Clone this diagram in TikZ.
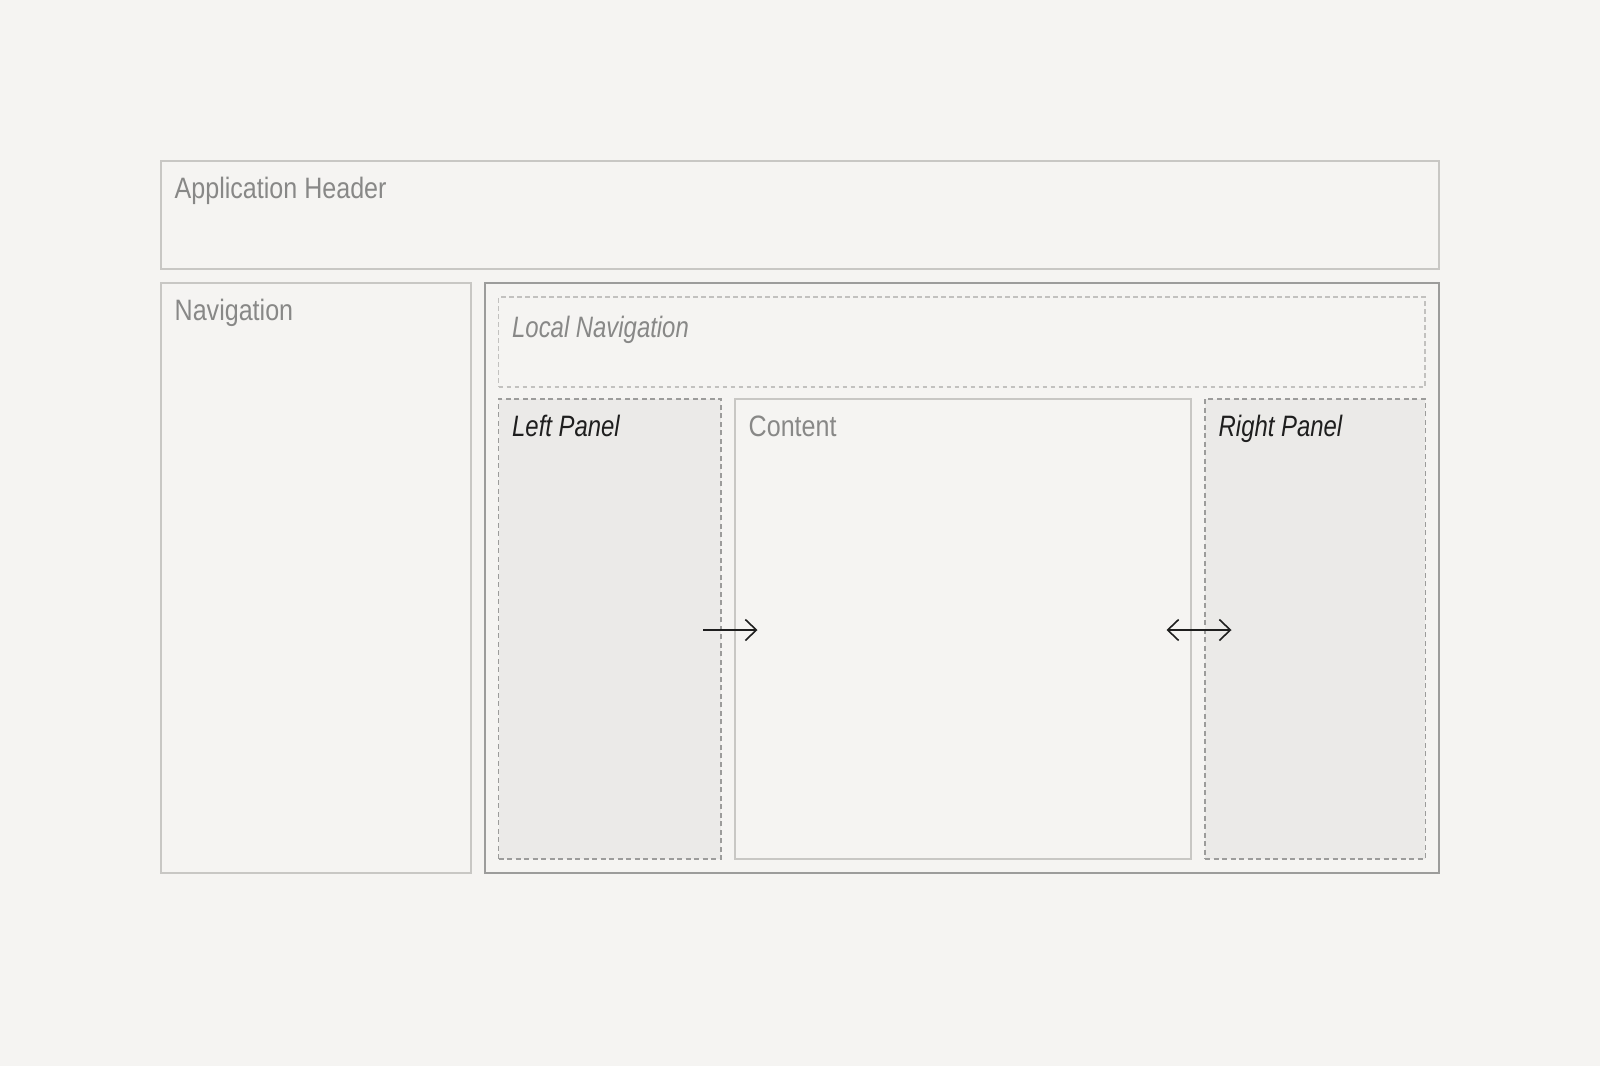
\documentclass[tikz,border=0pt]{standalone}
\usepackage{fontspec}
\setmainfont{Liberation Sans}[FakeStretch=0.85, ItalicFeatures={FakeStretch=0.81}]
\usetikzlibrary{arrows.meta}
\definecolor{bgc}{HTML}{F5F4F2}
\definecolor{lightline}{HTML}{C8C7C4}
\definecolor{midline}{HTML}{9C9C9B}
\definecolor{dashlight}{HTML}{C2C1BF}
\definecolor{panelfill}{HTML}{EBEAE8}
\definecolor{greytext}{HTML}{888887}
\definecolor{darktext}{HTML}{1E1E1E}
\tikzset{
  box/.style={draw=lightline, line width=1.6pt, inner sep=0pt, outer sep=0pt, anchor=north west},
  mainbox/.style={box, draw=midline},
  localnav/.style={box, draw=dashlight, line width=1.4pt, dash pattern=on 4.5pt off 3.5pt},
  panel/.style={box, draw=midline, fill=panelfill, line width=1.4pt, dash pattern=on 5pt off 3.5pt},
  lbl/.style={anchor=base west, inner sep=0pt, font=\fontsize{29.5}{34}\selectfont, text=greytext},
  ilbl/.style={lbl, font=\fontsize{29.5}{34}\selectfont\itshape},
  darklbl/.style={ilbl, text=darktext},
  conn/.style={line width=1.6pt, draw=darktext, {Straight Barb[length=11pt,width=21pt,line width=1.6pt]}-{Straight Barb[length=11pt,width=21pt,line width=1.6pt]}},
  connr/.style={line width=1.6pt, draw=darktext, -{Straight Barb[length=11pt,width=21pt,line width=1.6pt]}}
}
\begin{document}
\begin{tikzpicture}[x=1pt,y=-1pt]
\fill[bgc] (0,0) rectangle (1600,1066);
\useasboundingbox (0,0) rectangle (1600,1066);
% boxes
\node[box, minimum width=1278.3pt, minimum height=108pt] (header) at (160.7,160.7) {};
\node[box, minimum width=310pt, minimum height=589.7pt] (nav) at (160.7,283) {};
\node[mainbox, minimum width=954pt, minimum height=589.7pt] (main) at (484.8,283) {};
\node[localnav, minimum width=926.5pt, minimum height=90pt] (lnav) at (498.5,297) {};
\node[panel, minimum width=222.3pt, minimum height=460pt] (lpanel) at (498.7,399) {};
\node[box, minimum width=456pt, minimum height=460pt] (content) at (734.8,399) {};
\node[panel, minimum width=220.3pt, minimum height=460pt] (rpanel) at (1205,399) {};
% labels
\node[lbl] (tHeader) at (174.5,198) {Application Header};
\node[lbl] (tNav) at (174.5,320) {Navigation};
\node[ilbl] (tLnav) at (512,337.5) {Local Navigation};
\node[darklbl] (tLpanel) at (512,436) {Left Panel};
\node[lbl] (tContent) at (748.5,436) {Content};
\node[darklbl] (tRpanel) at (1218.5,436) {Right Panel};
% connectors
\coordinate (a1s) at (703,630);
\coordinate (a1e) at (757.5,630);
\coordinate (a2s) at (1166.5,630);
\coordinate (a2e) at (1231.5,630);
\draw[connr] (a1s) -- (a1e);
\draw[conn] (a2s) -- (a2e);
\end{tikzpicture}
\end{document}
